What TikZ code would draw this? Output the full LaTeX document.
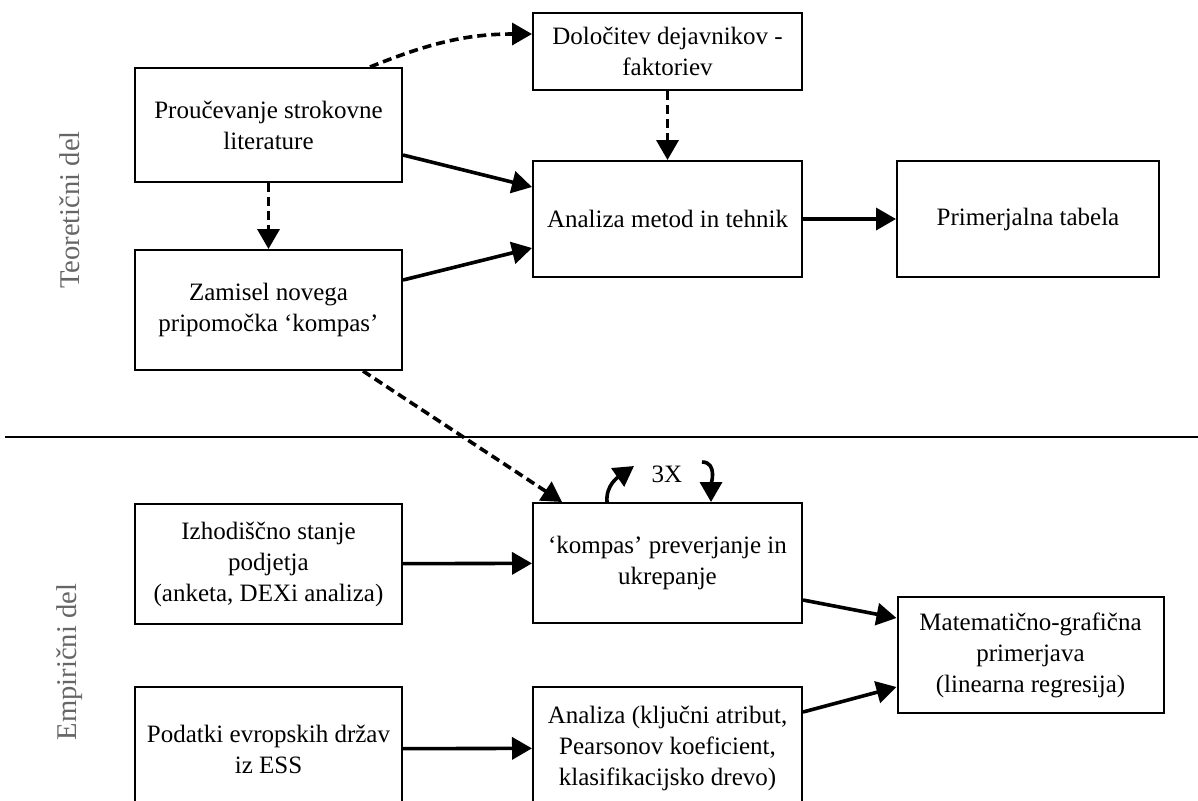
\documentclass[tikz,border=0pt]{standalone}
\usepackage{fontspec}
\setmainfont{Liberation Serif}
\usetikzlibrary{arrows.meta}

\begin{document}
\begin{tikzpicture}[x=0.5pt,y=-0.5pt,line width=1.8pt,>={Triangle[length=10pt,width=11pt]},
box/.style={draw,line width=1pt,align=center,inner sep=0pt,font=\fontsize{12.5}{15.5}\selectfont},
dsh/.style={dash pattern=on 4.5pt off 2.5pt},
side/.style={rotate=90,text=black!60,font=\fontsize{14.3}{17}\selectfont}]
\useasboundingbox (0,0) rectangle (1198,800);
% teoreticni del
\node[box,minimum width=133.5pt,minimum height=57pt] (lit) at (268.5,125) {Proučevanje strokovne\\literature};
\node[box,minimum width=134.5pt,minimum height=38.5pt] (dej) at (667.5,51.5) {Določitev dejavnikov -\\faktoriev};
\node[box,minimum width=134.5pt,minimum height=58pt] (ana) at (667.5,219) {Analiza metod in tehnik};
\node[box,minimum width=131pt,minimum height=58pt] (tab) at (1028,219) {Primerjalna tabela};
\node[box,minimum width=133.5pt,minimum height=60pt] (zam) at (268.5,310) {Zamisel novega\\pripomočka ‘kompas’};
% empiricni del
\node[box,minimum width=133.5pt,minimum height=60pt] (izh) at (268.5,564) {Izhodiščno stanje\\podjetja\\(anketa, DEXi analiza)};
\node[box,minimum width=134.5pt,minimum height=60pt] (kom) at (667.5,563) {‘kompas’ preverjanje in\\ukrepanje};
\node[box,minimum width=133pt,minimum height=58pt] (mat) at (1030.5,655) {Matematično-grafična\\primerjava\\(linearna regresija)};
\node[box,minimum width=133.5pt,minimum height=62pt] (pod) at (268.5,749) {Podatki evropskih držav\\iz ESS};
\node[box,minimum width=134.5pt,minimum height=61pt] (ank) at (667.5,748) {Analiza (ključni atribut,\\Pearsonov koeficient,\\klasifikacijsko drevo)};
\node[side] (teo) at (70,210) {Teoretični del};
\node[side] (emp) at (70,662) {Empirični del};
\node[font=\fontsize{12.5}{15.5}\selectfont] (tri) at (667,474) {3X};
\draw[line width=1pt] (5,437) -- (1198,437);
% puscice
\draw[->] ([yshift=-15pt]lit.east) -- ([yshift=16pt]ana.west);
\draw[->] ([yshift=15pt]zam.east) -- ([yshift=-14.5pt]ana.west);
\foreach \a/\b in {ana/tab,izh/kom,pod/ank}{\draw[->] (\a) -- (\b);};
\draw[->] ([yshift=-18.5pt]kom.east) -- ([yshift=18.5pt]mat.west);
\draw[->] ([yshift=18pt]ank.east) -- ([yshift=-16pt]mat.west);
\draw[->,dsh] ([xshift=50.75pt]lit.north) to[out=22,in=180] ([yshift=8.75pt]dej.west);
\draw[->,dsh] (dej) -- (ana);
\draw[->,dsh] (lit) -- (zam);
\draw[->,dsh] ([xshift=47.25pt]zam.south) -- ([xshift=15pt]kom.north west);
\coordinate (gor) at (634,466);
\coordinate (dol) at (702,462);
\draw[->] ([xshift=37.5pt]kom.north west) to[out=95,in=215] (gor);
\draw[->] (dol) to[out=0,in=90] ([xshift=89.5pt]kom.north west);
\end{tikzpicture}
\end{document}
